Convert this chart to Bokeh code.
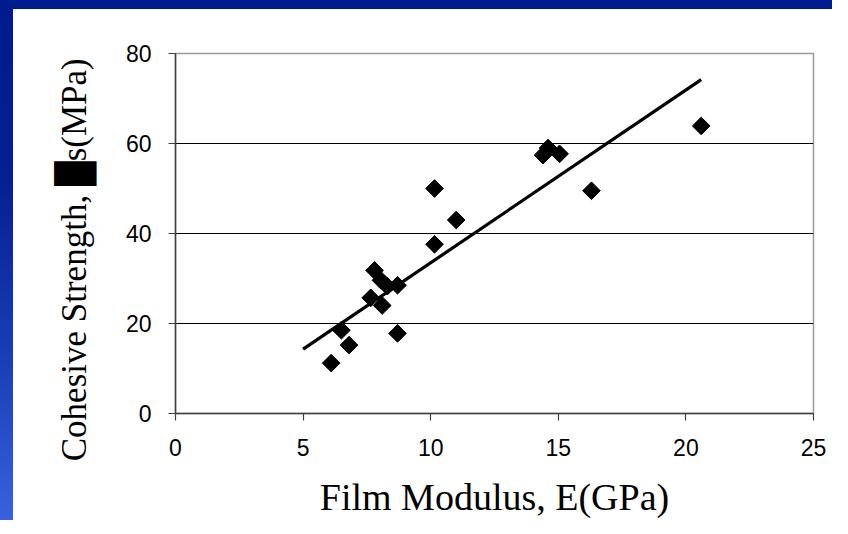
import math
from bokeh.plotting import figure
from bokeh.models import Range1d, FixedTicker, ColumnDataSource
from bokeh.embed import file_html
from bokeh.resources import INLINE

# ---- data ----
modulus = [6.1, 6.5, 6.8, 7.65, 7.8, 8.05, 8.3, 8.1, 8.7, 8.7, 10.15, 10.15, 11.0, 14.4, 14.6, 15.05, 16.3, 20.6]
strength = [11.2, 18.5, 15.2, 25.7, 31.8, 29.6, 28.3, 24.0, 28.5, 17.8, 50.0, 37.6, 43.0, 57.4, 59.0, 57.7, 49.5, 63.9]
fit_x = [5.0, 20.6]
fit_y = [14.3, 74.2]
x_ticks = [0, 5, 10, 15, 20, 25]
y_ticks = [0, 20, 40, 60, 80]
x_title = "Film Modulus, E(GPa)"
y_title = "Cohesive Strength, \u2588s(MPa)"

W, H = 832, 518
FL, FT, FW, FH = 175, 53, 638, 360

p = figure(width=W, height=H, output_backend="svg", toolbar_location=None,
           x_range=Range1d(0, 25), y_range=Range1d(0, 80),
           frame_width=FW, frame_height=FH,
           min_border_left=FL, min_border_top=FT,
           min_border_right=W - FL - FW, min_border_bottom=H - FT - FH)
p.background_fill_color = "white"
p.border_fill_color = None
p.styles = {
    "background": "linear-gradient(#001a8f, #001a8f) 0 0 / 100% 9px no-repeat, "
                  "linear-gradient(180deg, #001a8f 0%, #061f93 35%, #1a3fb8 70%, #3862dc 100%) 0 0 / 13px 100% no-repeat, "
                  "#ffffff"
}
p.outline_line_color = "#9a9a9a"
p.outline_line_width = 1.5

for ax, ticks in ((p.xaxis[0], x_ticks), (p.yaxis[0], y_ticks)):
    ax.ticker = FixedTicker(ticks=ticks)
    ax.axis_line_color = "#404040"
    ax.axis_line_width = 1.5
    ax.major_tick_line_color = "#404040"
    ax.major_tick_line_width = 1.2
    ax.major_tick_out = 7
    ax.major_tick_in = 0
    ax.minor_tick_line_color = None
    ax.major_label_text_font = "Liberation Sans"
    ax.major_label_text_font_size = "23px"
    ax.major_label_text_color = "black"

p.xaxis.major_label_standoff = 18
p.yaxis.major_label_standoff = 17

p.xaxis.axis_label = x_title
p.xaxis.axis_label_text_font = "Liberation Serif"
p.xaxis.axis_label_text_font_size = "38px"
p.xaxis.axis_label_text_font_style = "normal"
p.xaxis.axis_label_text_color = "black"
p.xaxis.axis_label_standoff = 17

# y title: trailing no-break spaces shift the visible text toward the bottom as in the reference
p.yaxis.axis_label = y_title + "\u00a0" * 6
p.yaxis.axis_label_text_font = "Liberation Serif"
p.yaxis.axis_label_text_font_size = "35px"
p.yaxis.axis_label_text_font_style = "normal"
p.yaxis.axis_label_text_color = "black"
p.yaxis.axis_label_standoff = 29

p.xgrid.grid_line_color = None
p.ygrid.ticker = FixedTicker(ticks=y_ticks[1:-1])
p.ygrid.grid_line_color = "black"
p.ygrid.grid_line_width = 1

src = ColumnDataSource(dict(x=modulus, y=strength))
p.line(fit_x, fit_y, line_color="black", line_width=3.2)
p.scatter("x", "y", source=src, marker="square", angle=math.pi / 4,
          size=12.5, fill_color="black", line_color="black")

open("out.html", "w").write(file_html(p, INLINE))
